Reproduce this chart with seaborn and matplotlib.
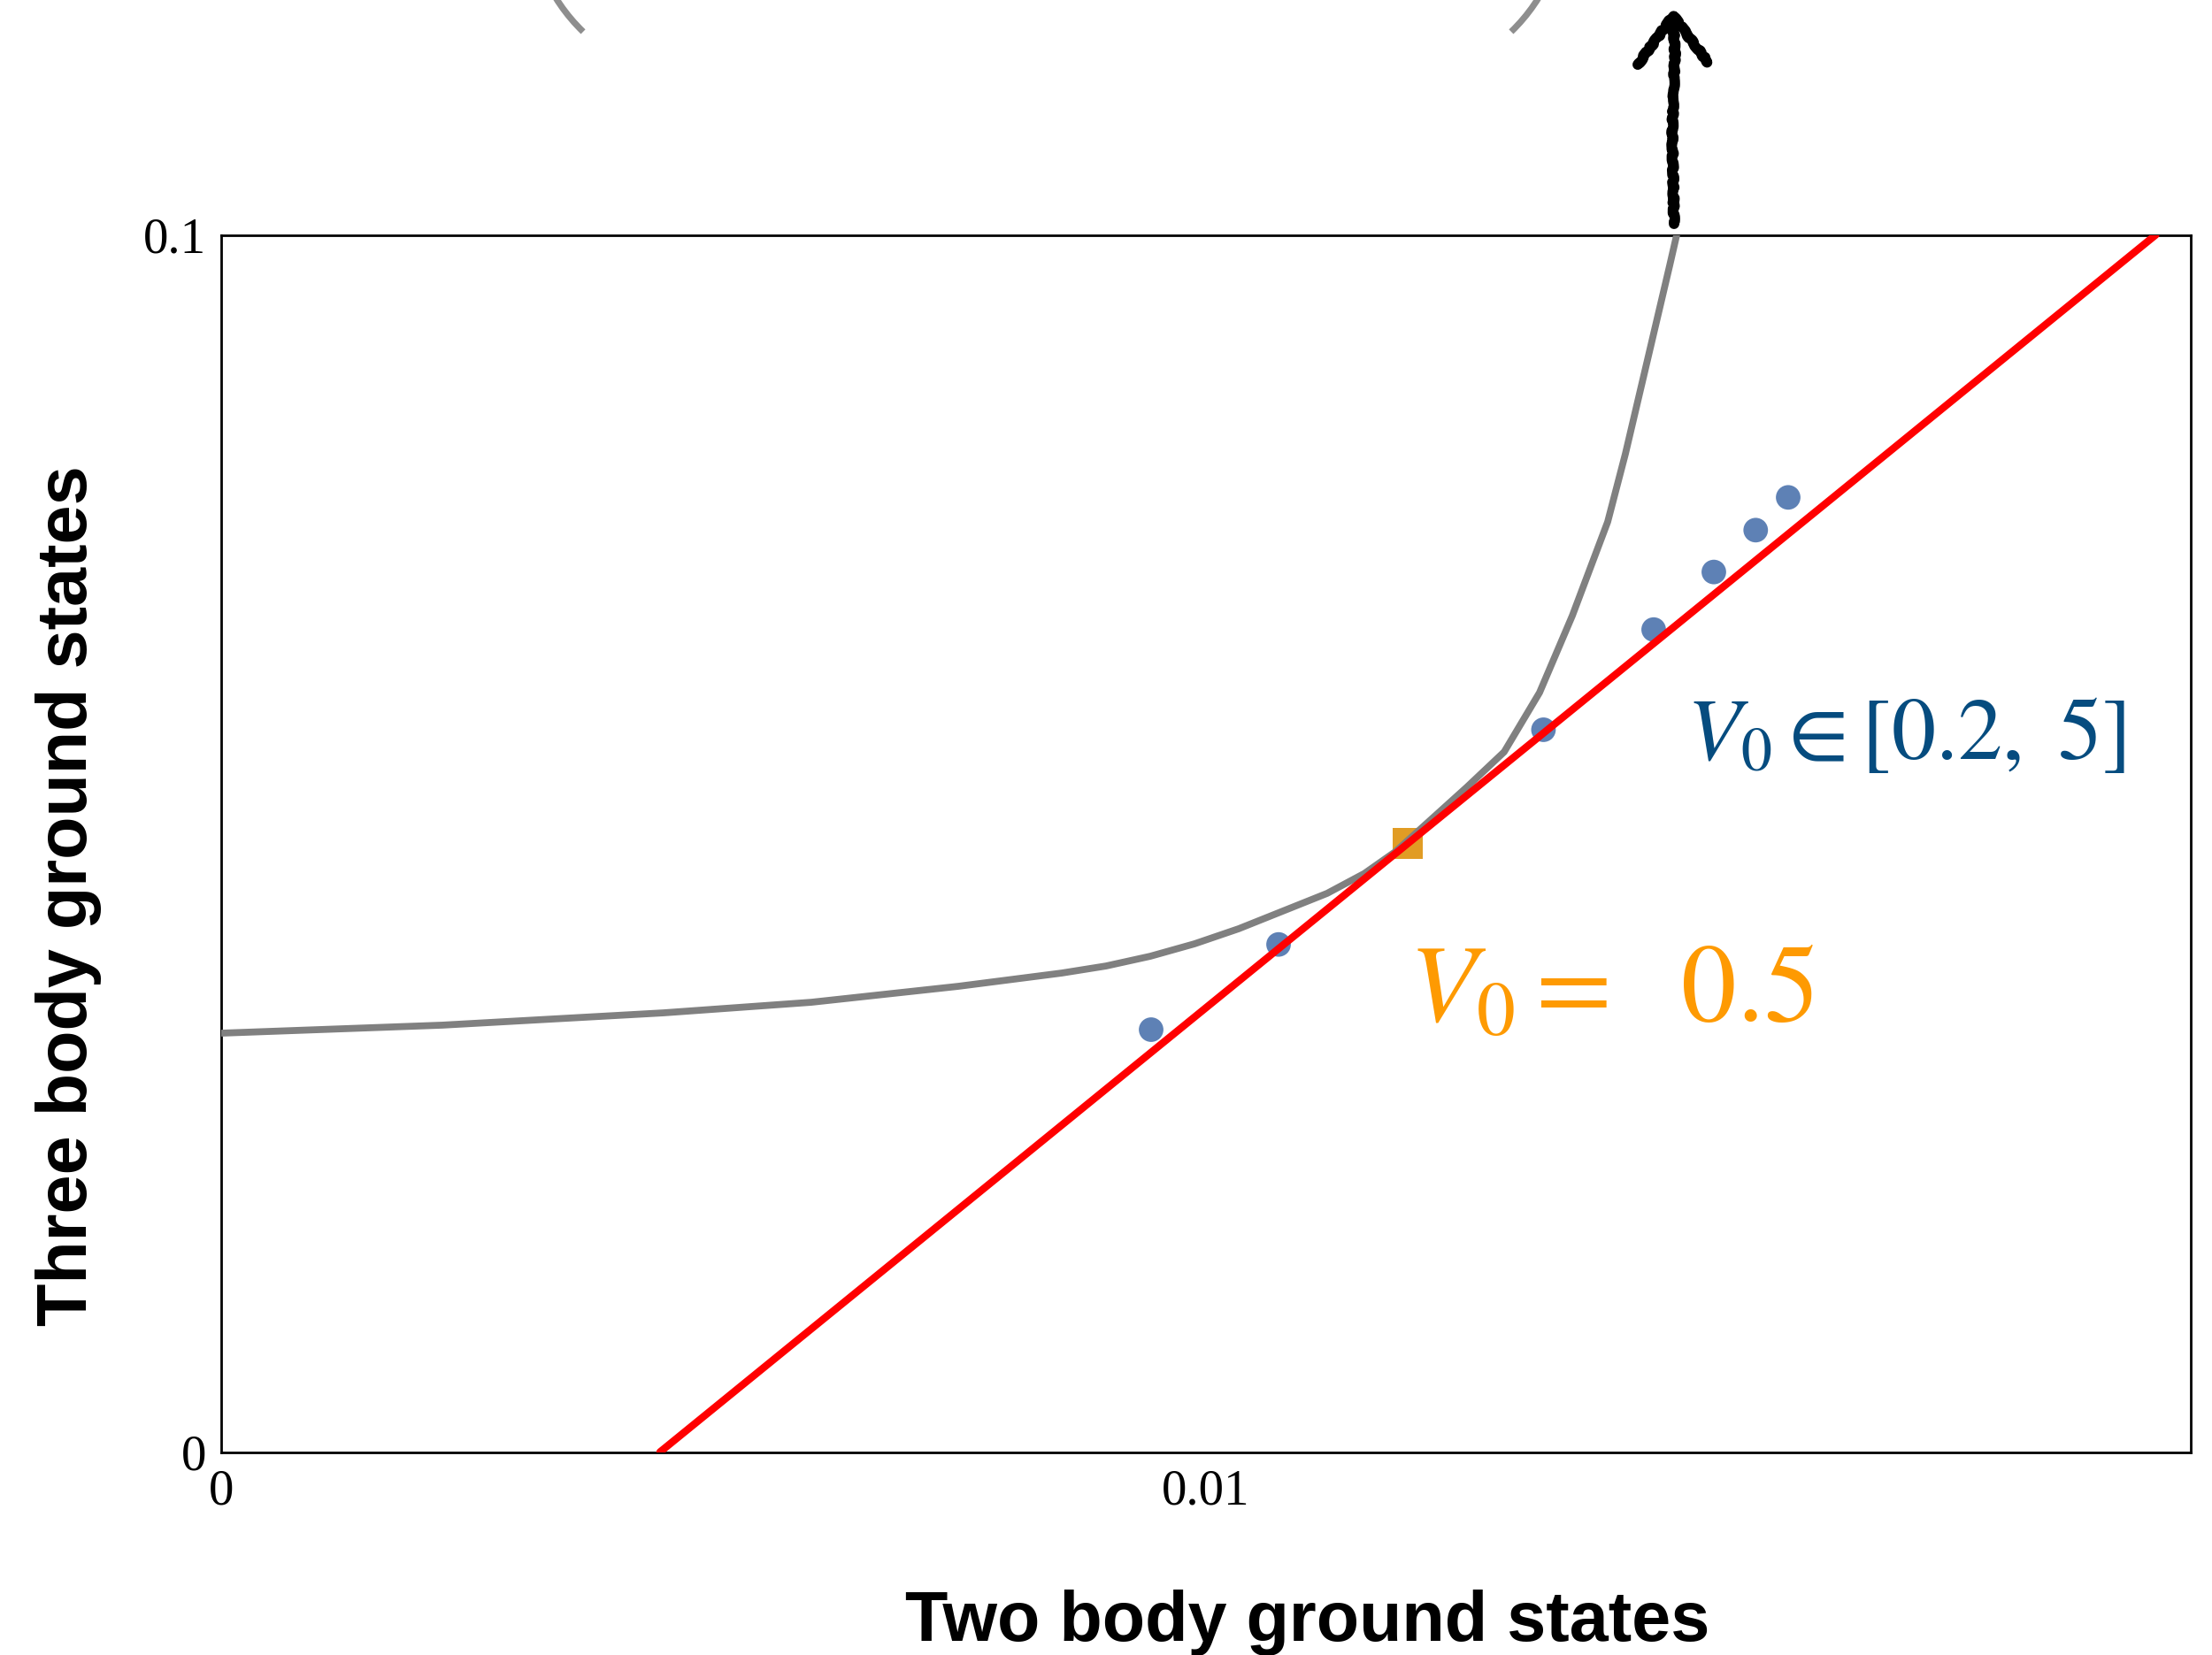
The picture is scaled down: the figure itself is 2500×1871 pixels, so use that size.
import matplotlib
matplotlib.use("Agg")
import matplotlib.pyplot as plt
import numpy as np
import pandas as pd
import seaborn as sns
from matplotlib.patches import Arc
from matplotlib.lines import Line2D

# ---- data -------------------------------------------------------------
# analytic three-body vs two-body ground-state curve (sampled)
curve_x = [0.0, 0.002246, 0.004492, 0.005993, 0.007484, 0.008535, 0.008985,
           0.009434, 0.009883, 0.010332, 0.011231, 0.011608, 0.011923,
           0.012647, 0.013028, 0.013387, 0.013720, 0.014079, 0.014259,
           0.014708, 0.014780]
curve_y = [0.03441, 0.03507, 0.03608, 0.03695, 0.03826, 0.03935, 0.03993,
           0.04073, 0.04175, 0.04299, 0.04590, 0.04753, 0.04932,
           0.05461, 0.05752, 0.06239, 0.06871, 0.07642, 0.08201,
           0.09746, 0.1000]

# numerical ground states for V0 in [0.2, 5]
dots_x = [0.009443, 0.010737, 0.013427, 0.014546, 0.015157, 0.015582, 0.015912]
dots_y = [0.03470, 0.04170, 0.05934, 0.06757, 0.07230, 0.07574, 0.07843]

# highlighted point V0 = 0.5
mark_x = [0.01205]
mark_y = [0.0500]

# linear fit through the highlighted point
fit_x = [0.004456, 0.019645]
fit_y = [0.0, 0.1]

x_ticks = [0.0, 0.01]
x_ticklabels = ["0", "0.01"]
y_ticks = [0.0, 0.1]
y_ticklabels = ["0", "0.1"]

curve_df = pd.DataFrame({"x": curve_x, "y": curve_y})
dots_df = pd.DataFrame({"x": dots_x, "y": dots_y})
mark_df = pd.DataFrame({"x": mark_x, "y": mark_y})
fit_df = pd.DataFrame({"x": fit_x, "y": fit_y})

# ---- style ------------------------------------------------------------
sns.set_style("white")
plt.rcParams["font.family"] = ["Liberation Serif", "DejaVu Serif"]
plt.rcParams["mathtext.fontset"] = "stix"
plt.rcParams["axes.labelcolor"] = "black"
plt.rcParams["text.color"] = "black"

W, H, DPI = 2500, 1871, 200
fig = plt.figure(figsize=(W / DPI, H / DPI), dpi=DPI)
fig.patch.set_facecolor("white")

left, right, top, bottom = 250, 2476, 265.5, 1641.5
ax = fig.add_axes([left / W, 1 - bottom / H, (right - left) / W, (bottom - top) / H])
ax.set_facecolor("white")

sns.scatterplot(data=dots_df, x="x", y="y", ax=ax, color="#5e81b5",
                s=100, edgecolor="none", zorder=2, legend=False)
sns.scatterplot(data=mark_df, x="x", y="y", ax=ax, color="#e19c24",
                marker="s", s=150, edgecolor="none", zorder=2, legend=False)
sns.lineplot(data=curve_df, x="x", y="y", ax=ax, color="#808080",
             linewidth=2.8, estimator=None, sort=False, zorder=3)
sns.lineplot(data=fit_df, x="x", y="y", ax=ax, color="#ff0000",
             linewidth=3.0, estimator=None, sort=False, zorder=4)

ax.set_xlim(0, 0.02)
ax.set_ylim(0, 0.1)
ax.set_xticks(x_ticks)
ax.set_xticklabels(x_ticklabels)
ax.set_yticks(y_ticks)
ax.set_yticklabels(y_ticklabels)
ax.tick_params(axis="both", direction="in", length=7, width=0.8,
               colors="black", labelsize=20.5)
ax.tick_params(axis="x", pad=7)
ax.tick_params(axis="y", pad=6)

for sp in ax.spines.values():
    sp.set_visible(True)
    sp.set_color("black")
    sp.set_linewidth(1.0)

label_font = dict(family=["Liberation Sans", "DejaVu Sans"], weight="bold",
                  size=28.5, color="black")
ax.set_xlabel("Two body ground states", **label_font)
ax.set_ylabel("Three body ground states", **label_font)
ax.xaxis.label.set_va("baseline")
ax.xaxis.set_label_coords(0.5517, -0.1548)
ax.yaxis.label.set_va("baseline")
ax.yaxis.label.set_rotation_mode("anchor")
ax.yaxis.set_label_coords(-0.0683, 0.457)

ax.text(0.014880, 0.05694, r"$V_0 \in [0.2,\ 5]$", color="#064c7f",
        fontsize=36, ha="left", va="baseline", zorder=5)
ax.text(0.012060, 0.03536, r"$V_0 =\ \ 0.5$", color="#fe9a02",
        fontsize=45, ha="left", va="baseline", zorder=5)

# ---- decorations above the axes ---------------------------------------
def px(x, y):
    """image pixel (origin top-left) -> figure fraction"""
    return x / W, 1 - y / H

# lower ends of a large pair of parentheses running off the top edge
R = 200 / DPI
for cx, ang in ((798, (180, 226)), (1569, (314, 360))):
    arc = Arc((cx / DPI, (H + 108) / DPI), 2 * R, 2 * R, theta1=ang[0], theta2=ang[1],
              transform=fig.dpi_scale_trans, color="#8e8e8e", linewidth=2.6)
    fig.add_artist(arc)

# hand-drawn upward arrow where the curve leaves the frame
shaft = [px(1892, 253), px(1890, 150), px(1893, 60), px(1891, 22)]
head = [px(1851, 73), px(1891, 18), px(1930, 70)]
for pts in (shaft, head):
    xs, ys = zip(*pts)
    ln = Line2D(xs, ys, transform=fig.transFigure, color="black",
                linewidth=4.3, solid_capstyle="round", solid_joinstyle="round")
    ln.set_sketch_params(scale=1.0, length=25, randomness=8)
    fig.add_artist(ln)

fig.savefig("out.png", dpi=DPI, facecolor="white")
